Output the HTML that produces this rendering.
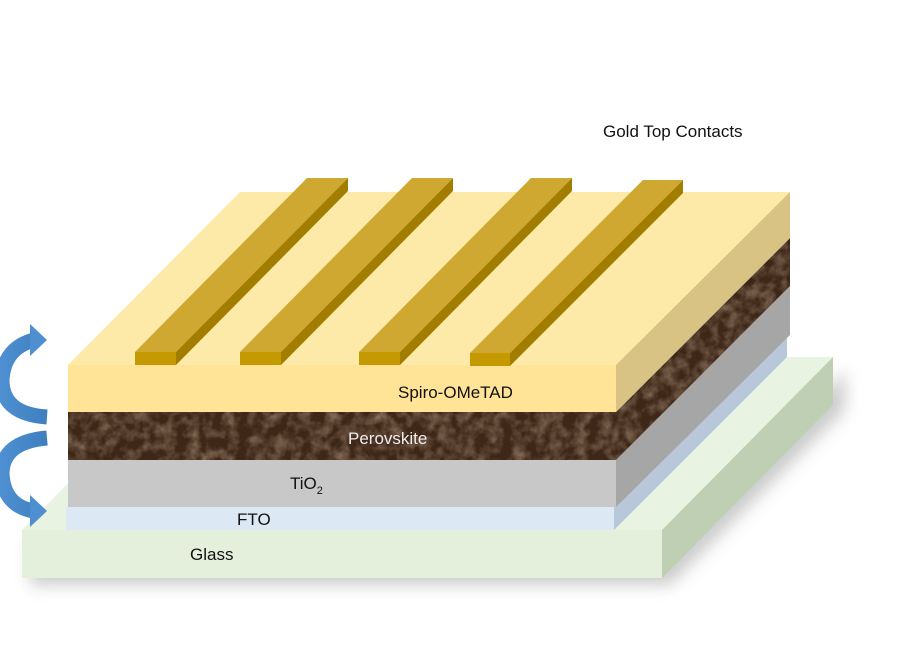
<!DOCTYPE html>
<html><head><meta charset="utf-8"><style>
body{margin:0;background:#fff;}
svg{display:block;}
text{font-family:"Liberation Sans",sans-serif;font-size:17px;fill:#111;}
</style></head><body>
<svg width="900" height="650" viewBox="0 0 900 650" xmlns="http://www.w3.org/2000/svg">
<defs>
<filter id="sh" x="-20%" y="-20%" width="140%" height="140%"><feGaussianBlur stdDeviation="8"/></filter>
<filter id="tex" x="0" y="0" width="100%" height="100%">
<feTurbulence type="fractalNoise" baseFrequency="0.08" numOctaves="3" seed="4"/>
<feColorMatrix type="matrix" values="0 0 0 0 0.45  0 0 0 0 0.32  0 0 0 0 0.22  1.2 0 0 0 -0.45"/>
<feComposite in2="SourceGraphic" operator="in"/>
</filter>
<linearGradient id="bl" x1="0" y1="0" x2="1" y2="0"><stop offset="0" stop-color="#4d8fd0"/><stop offset="1" stop-color="#3f7fc0"/></linearGradient>
</defs>
<!-- shadow -->
<polygon points="30,585 670,585 845,410 845,370 680,540 30,540" fill="#999" opacity="0.5" filter="url(#sh)"/>
<!-- glass -->
<polygon points="22,530 193,357 833,357 662,530" fill="#e8f3e2"/>
<polygon points="662,530 833,357 833,405 662,578" fill="#bfcfb3"/>
<rect x="22" y="530" width="640" height="48" fill="#e4f0dc"/>
<!-- FTO -->
<polygon points="614,507 787,335 787,357 614,530" fill="#b8c8da"/>
<rect x="66" y="507" width="548" height="23" fill="#dce8f4"/>
<!-- TiO2 -->
<polygon points="616,460 790,286 790,335 616,507" fill="#a6a6a6"/>
<rect x="68" y="460" width="548" height="47" fill="#c8c8c8"/>
<!-- Perovskite -->
<polygon points="616,412 790,238 790,286 616,460" fill="#3f2718"/>
<rect x="68" y="412" width="548" height="48" fill="#3f2718"/>
<polygon points="616,412 790,238 790,286 616,460" fill="#3f2718" filter="url(#tex)"/>
<rect x="68" y="412" width="548" height="48" fill="#3f2718" filter="url(#tex)"/>
<!-- Spiro -->
<polygon points="68,365 240,192 790,192 616,365" fill="#fde9a8"/>
<polygon points="616,365 790,192 790,238 616,412" fill="#d8c384"/>
<rect x="68" y="365" width="548" height="47" fill="#ffe497"/>
<!-- gold bars -->
<g>
<polygon points="135,352 176,352 348,178 307,178" fill="#cfa832"/>
<polygon points="176,352 348,178 348,191 176,365" fill="#a27d00"/>
<rect x="135" y="352" width="41" height="13" fill="#c49a00"/>
<polygon points="240,352 281,352 453,178 412,178" fill="#cfa832"/>
<polygon points="281,352 453,178 453,191 281,365" fill="#a27d00"/>
<rect x="240" y="352" width="41" height="13" fill="#c49a00"/>
<polygon points="359,352 400,352 572,178 531,178" fill="#cfa832"/>
<polygon points="400,352 572,178 572,191 400,365" fill="#a27d00"/>
<rect x="359" y="352" width="41" height="13" fill="#c49a00"/>
<polygon points="470,353 510,353 683,180 643,180" fill="#cfa832"/>
<polygon points="510,353 683,180 683,193 510,366" fill="#a27d00"/>
<rect x="470" y="353" width="40" height="13" fill="#c49a00"/>
</g>
<!-- arrows -->
<path d="M47,417 Q2,414 2,380 Q4,348 34,340" stroke="url(#bl)" stroke-width="15" fill="none"/>
<polygon points="30,324 47,340 30,356" fill="#4d8fd0"/>
<path d="M47,438 Q2,442 2,474 Q4,506 34,511" stroke="url(#bl)" stroke-width="15" fill="none"/>
<polygon points="30,495 47,511 30,527" fill="#4d8fd0"/>
<!-- labels -->
<text x="603" y="137">Gold Top Contacts</text>
<text x="398" y="398">Spiro-OMeTAD</text>
<text x="348" y="444" style="fill:#eee">Perovskite</text>
<text x="290" y="489">TiO<tspan font-size="11" dy="5">2</tspan></text>
<text x="237" y="525">FTO</text>
<text x="190" y="560">Glass</text>
</svg>
</body></html>
